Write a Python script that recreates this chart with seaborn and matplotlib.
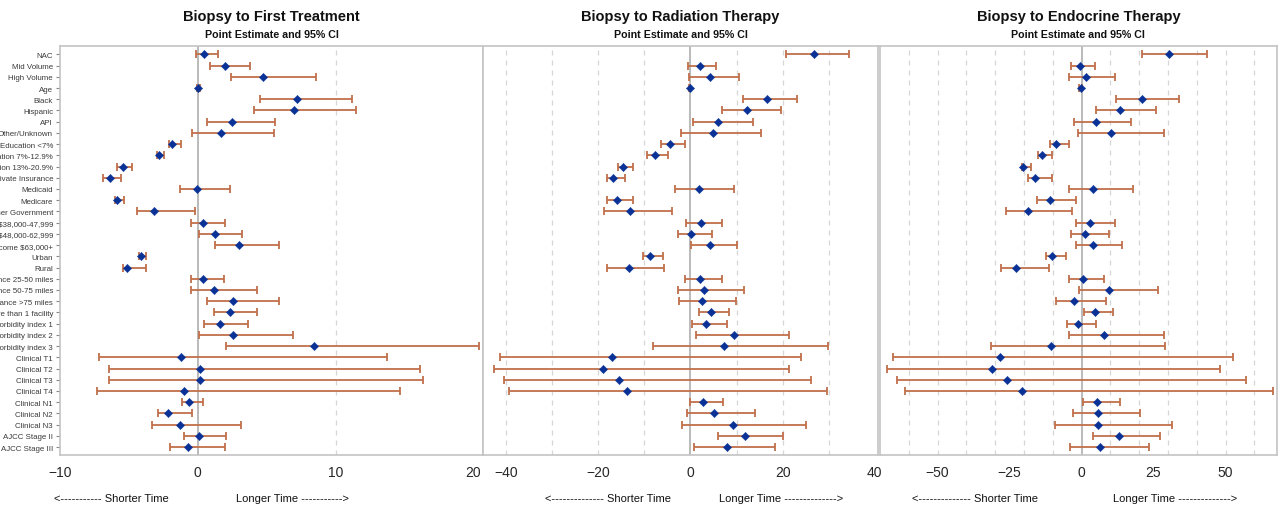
#gráficos de floresta (forest plot) com três painéis
import seaborn as sns
import matplotlib
matplotlib.use("Agg")
import matplotlib.pyplot as plt
import matplotlib.transforms as mtransforms
import pandas as pd

#variáveis do modelo (de cima para baixo)
labels = ["NAC", "Mid Volume", "High Volume", "Age", "Black", "Hispanic", "API",
          "Other/Unknown", "Education <7%", "Education 7%-12.9%", "Education 13%-20.9%",
          "Private Insurance", "Medicaid", "Medicare", "Other Government",
          "Income $38,000-47,999", "Income $48,000-62,999", "Income $63,000+",
          "Urban", "Rural", "Distance 25-50 miles", "Distance 50-75 miles",
          "Distance >75 miles", "More than 1 facility", "Comorbidity index 1",
          "Comorbidity index 2", "Comorbidity index 3", "Clinical T1", "Clinical T2",
          "Clinical T3", "Clinical T4", "Clinical N1", "Clinical N2", "Clinical N3",
          "AJCC Stage II", "AJCC Stage III"]

#Biopsy to First Treatment
est1 = [0.46, 2.0, 4.77, 0.05, 7.2, 6.95, 2.45, 1.65, -1.86, -2.81, -5.45, -6.37, -0.05, -5.9,
        -3.17, 0.39, 1.23, 2.98, -4.14, -5.16, 0.36, 1.21, 2.59, 2.37, 1.62, 2.52, 8.43,
        -1.21, 0.15, 0.19, -1.02, -0.63, -2.15, -1.28, 0.07, -0.7]
lo1 = [-0.1, 0.87, 2.42, -0.05, 4.53, 4.1, 0.65, -0.44, -2.06, -2.98, -5.9, -6.85, -1.28, -6.03,
       -4.38, -0.46, 0.1, 1.23, -4.24, -5.4, -0.5, -0.5, 0.68, 1.21, 0.48, 0.1, 2.03,
       -7.2, -6.44, -6.44, -7.29, -1.14, -2.88, -3.32, -0.97, -2.0]
hi1 = [1.5, 3.8, 8.6, 0.15, 11.2, 11.5, 5.57, 5.52, -1.19, -2.45, -4.8, -5.6, 2.32, -5.38,
       -0.19, 1.99, 3.24, 5.93, -3.78, -3.73, 1.91, 4.31, 5.9, 4.31, 3.61, 6.9, 20.4,
       13.73, 16.1, 16.34, 14.67, 0.41, -0.39, 3.12, 2.06, 1.99]

#Biopsy to Radiation Therapy
est2 = [26.7, 2.0, 4.2, -0.2, 16.5, 12.3, 6.0, 5.0, -4.4, -7.7, -14.6, -16.9, 1.9, -16.0,
        -13.1, 2.4, 0.14, 4.26, -8.7, -13.3, 2.17, 3.03, 2.6, 4.55, 3.47, 9.46, 7.2,
        -17.0, -18.9, -15.5, -13.7, 2.74, 5.2, 9.24, 11.84, 7.94]
lo2 = [20.7, -0.43, -0.36, -0.4, 11.4, 6.8, 0.65, -2.0, -6.35, -9.46, -15.6, -18.2, -3.25, -18.05,
       -18.8, -0.87, -2.8, 0.07, -10.3, -18.2, -1.08, -2.8, -2.45, 1.95, 0.36, 1.16, -8.1,
       -41.2, -42.6, -40.4, -39.4, -0.2, -0.72, -1.8, 6.06, 0.8]
hi2 = [34.4, 5.5, 10.5, 0.0, 23.2, 19.7, 13.6, 15.2, -1.16, -4.9, -12.5, -14.1, 9.4, -12.35,
       -3.9, 6.9, 4.6, 10.1, -6.0, -5.7, 6.86, 11.55, 9.9, 8.4, 7.9, 21.4, 29.9,
       23.9, 21.4, 26.1, 29.7, 7.0, 14.0, 25.05, 20.0, 18.27]

#Biopsy to Endocrine Therapy
est3 = [30.2, -0.6, 1.6, -0.35, 21.1, 13.3, 4.9, 10.2, -8.8, -13.9, -20.3, -16.2, 3.9, -11.1,
        -18.75, 3.0, 1.3, 4.05, -10.2, -22.7, 0.35, 9.5, -2.5, 4.5, -1.4, 7.75, -10.5,
        -28.4, -31.25, -25.8, -20.7, 5.3, 5.8, 5.8, 13.1, 6.4]
lo3 = [20.9, -3.5, -4.3, -0.8, 12.0, 5.1, -2.5, -1.2, -11.1, -15.2, -20.8, -18.75, -4.2, -15.6,
       -26.3, -2.1, -3.7, -2.0, -12.5, -28.0, -4.4, -0.8, -9.0, 0.7, -5.0, -4.4, -31.6,
       -65.6, -67.4, -64.1, -61.3, 0.46, -2.9, -9.1, 4.05, -3.9]
hi3 = [43.5, 4.7, 11.7, 0.1, 33.9, 26.0, 17.0, 28.7, -4.3, -10.2, -17.6, -10.2, 17.7, -2.0,
       -3.2, 11.5, 9.6, 14.0, -5.3, -11.2, 7.75, 26.6, 8.6, 11.0, 4.9, 28.6, 28.9,
       52.5, 48.0, 57.1, 66.5, 13.4, 20.25, 31.4, 27.2, 23.4]

titulos = ["Biopsy to First Treatment", "Biopsy to Radiation Therapy", "Biopsy to Endocrine Therapy"]

sns.set_theme(style="white")
plt.rcParams['font.family'] = ['Liberation Sans', 'DejaVu Sans']

cor_ic = "#C0704A"
cor_ponto = "#0A3296"
cor_borda = "#C4C4C4"

#configuração de cada painel: dados, limites, ticks, linhas de referência, posição do texto
paineis = [
    dict(est=est1, lo=lo1, hi=hi1, xlim=(-10, 20.7), ticks=[-10, 0, 10, 20],
         refs=[10], pos=[0.0469, 0.3773], setas=(-6.3, 6.9), traco=11),
    dict(est=est2, lo=lo2, hi=hi2, xlim=(-45, 40.7), ticks=[-40, -20, 0, 20, 40],
         refs=[-40, -30, -20, -10, 10, 20, 30], pos=[0.3773, 0.6860], setas=(-17.9, 19.7), traco=14),
    dict(est=est3, lo=lo3, hi=hi3, xlim=(-70, 67.8), ticks=[-50, -25, 0, 25, 50],
         refs=[-60, -50, -40, -30, -20, -10, 10, 20, 30, 40, 50, 60], pos=[0.6875, 0.9975],
         setas=(-37, 32.4), traco=14),
]

fig = plt.figure(figsize=(12.8, 5.1), dpi=100)
base, topo = 0.106, 0.908

for i, p in enumerate(paineis):
    ax = fig.add_axes([p["pos"][0], base, p["pos"][1] - p["pos"][0], topo - base])
    df = pd.DataFrame({"label": labels, "est": p["est"], "lo": p["lo"], "hi": p["hi"]})
    df["y"] = range(len(df))

    #linhas de referência
    for r in p["refs"]:
        ax.axvline(r, color="#D6D6D6", lw=0.9, ls=(0, (4, 4)), zorder=0)
    ax.axvline(0, color="#B4B4B4", lw=1.3, zorder=1)

    #intervalos de confiança
    ax.errorbar(df["est"], df["y"], xerr=[df["est"] - df["lo"], df["hi"] - df["est"]],
                fmt="none", ecolor=cor_ic, elinewidth=1.3, capsize=3, capthick=1.3, zorder=2)
    #estimativas pontuais
    sns.scatterplot(data=df, x="est", y="y", marker="D", color=cor_ponto, s=18,
                    edgecolor=cor_ponto, linewidth=0.3, ax=ax, zorder=3, legend=False)

    ax.set_xlim(*p["xlim"])
    ax.set_ylim(len(labels) - 0.3, -0.75)
    ax.set_xticks(p["ticks"])
    ax.tick_params(axis="x", labelsize=10, length=4, width=0.8, color=cor_borda, pad=3, direction="out")
    if i == 0:
        ax.set_yticks(df["y"])
        ax.set_yticklabels(labels, fontsize=5.7, color="#3A3A3A")
        ax.tick_params(axis="y", length=3, width=0.8, color="#888888", pad=2, left=True)
    else:
        ax.set_yticks([])
    ax.set_xlabel("")
    ax.set_ylabel("")
    for s in ax.spines.values():
        s.set_color(cor_borda)
        s.set_linewidth(1.2)

    #títulos
    ax.text(0.5, 1.073, titulos[i], transform=ax.transAxes, ha="center", va="center",
            fontsize=10.5, fontweight="bold", color="#111111")
    ax.text(0.5, 1.029, "Point Estimate and 95% CI", transform=ax.transAxes, ha="center",
            va="center", fontsize=7.7, fontweight="bold", color="#111111")

    #setas de tempo
    trans = mtransforms.blended_transform_factory(ax.transData, ax.transAxes)
    ax.text(p["setas"][0], -0.105, "<" + "-" * p["traco"] + " Shorter Time", transform=trans,
            ha="center", va="center", fontsize=8, color="#111111")
    ax.text(p["setas"][1], -0.105, "Longer Time " + "-" * p["traco"] + ">", transform=trans,
            ha="center", va="center", fontsize=8, color="#111111")

fig.savefig("out.png", dpi=100)
